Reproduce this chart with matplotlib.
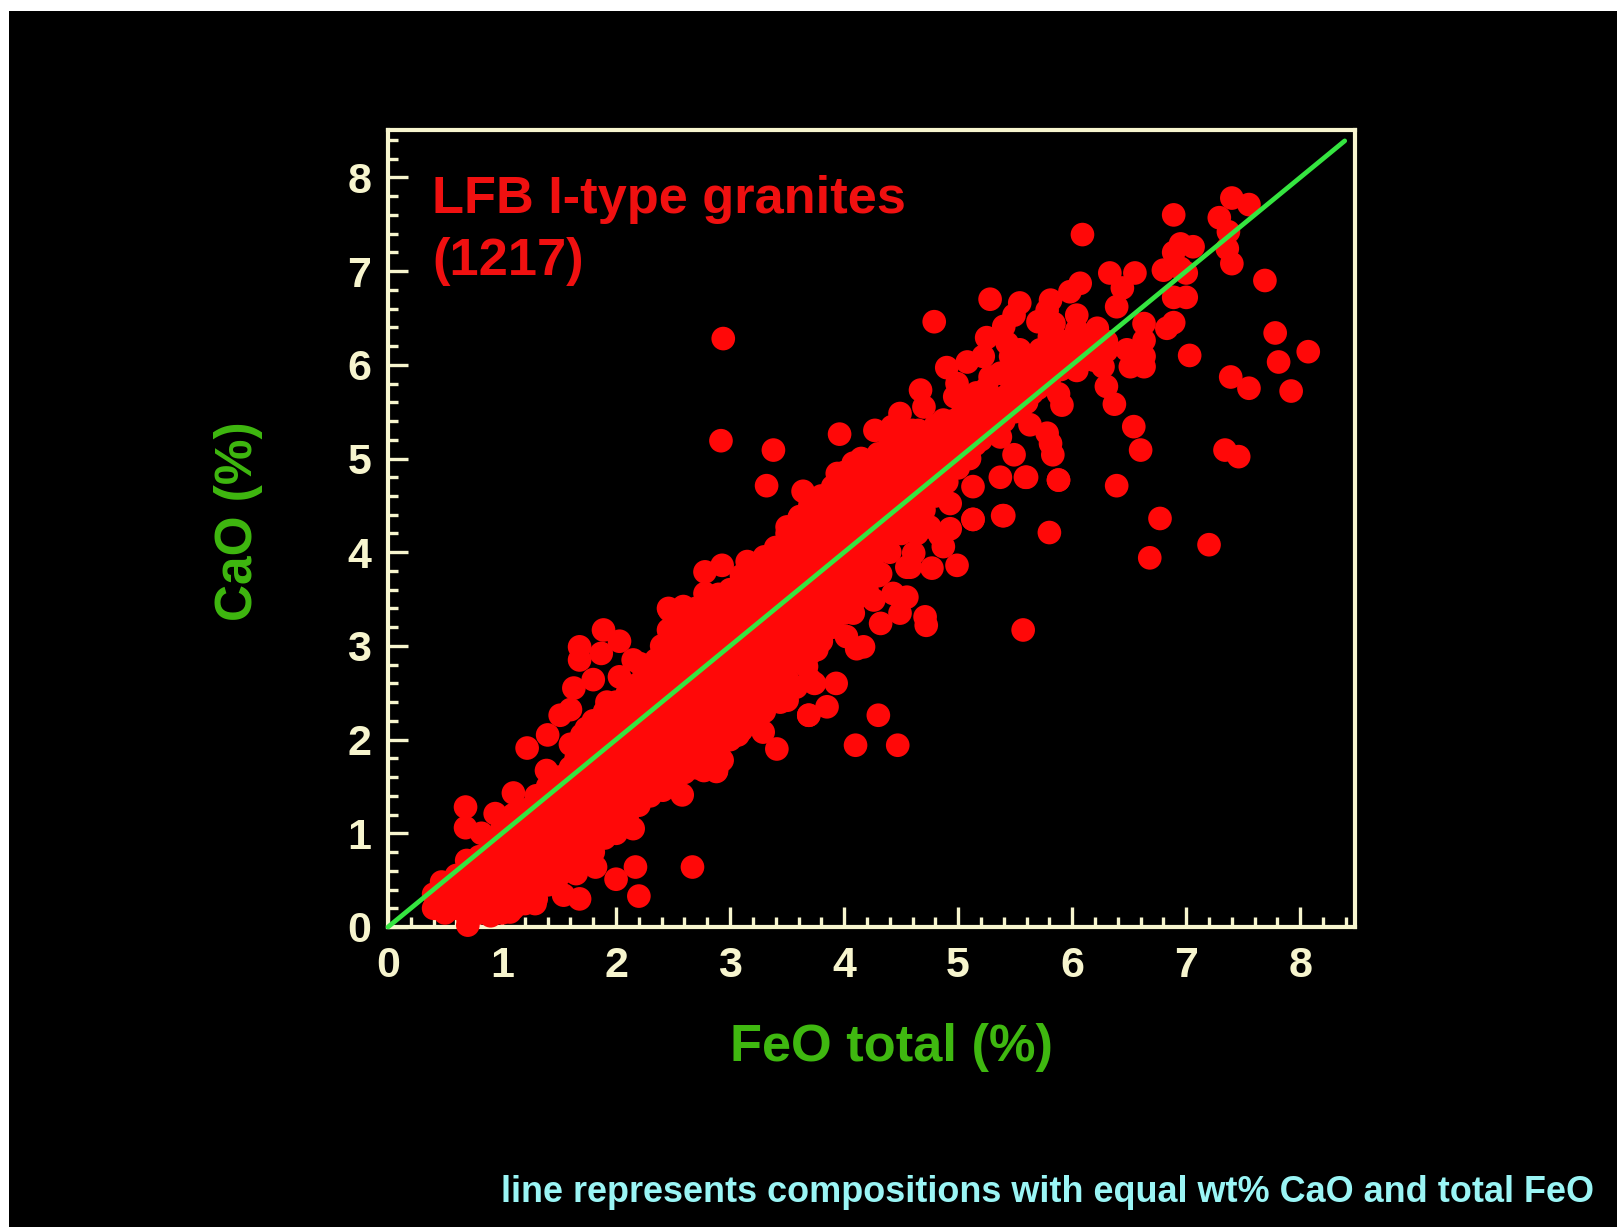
import matplotlib
matplotlib.use("Agg")
from matplotlib import pyplot as plt
from matplotlib.patches import Rectangle

# Separate samples (FeO total, CaO).
feo_outer = [8.07, 7.78, 7.81, 7.92, 7.69, 7.39, 7.55, 7.34, 7.46, 7.20, 6.68, 6.77,
             6.39, 6.60, 6.54, 5.57, 5.80, 5.88, 5.60, 5.37, 5.39, 5.13, 2.94, 2.92,
             3.38, 3.32, 3.96, 4.79, 6.09, 5.28, 6.89, 7.40, 7.55, 7.29, 7.37, 7.36,
             7.40, 4.47, 4.10, 4.30, 2.67, 2.20, 2.17, 2.00, 1.68, 1.54, 0.70, 7.03,
             6.95, 7.06, 6.89, 6.80, 6.95, 6.89, 7.00, 6.89, 6.83, 7.00, 6.33, 6.55,
             6.44, 6.39, 6.07, 5.98, 5.81, 5.78, 5.70, 5.84, 6.04, 6.04, 6.22, 5.89,
             5.72, 5.54, 5.46, 5.60, 5.78, 5.89, 5.54, 5.49, 5.40, 5.25, 5.43]
cao_outer = [6.14, 6.34, 6.03, 5.72, 6.90, 5.87, 5.75, 5.09, 5.02, 4.08, 3.94, 4.36,
             4.71, 5.09, 5.34, 3.17, 4.21, 4.77, 4.80, 4.80, 4.39, 4.35, 6.28, 5.19,
             5.09, 4.71, 5.26, 6.46, 7.39, 6.70, 7.60, 7.78, 7.71, 7.57, 7.42, 7.24,
             7.08, 1.94, 1.94, 2.26, 0.64, 0.33, 0.64, 0.51, 0.30, 0.34, 0.02, 6.10,
             7.29, 7.26, 7.20, 7.01, 7.03, 6.72, 6.72, 6.45, 6.39, 6.98, 6.98, 6.98,
             6.82, 6.62, 6.87, 6.78, 6.69, 6.58, 6.46, 6.44, 6.53, 6.37, 6.39, 6.26,
             6.16, 6.16, 6.09, 5.87, 5.98, 6.05, 6.66, 6.53, 6.41, 6.29, 6.23]

# Edge of the main cloud.
feo_edge = [4.90, 5.08, 5.22, 5.37, 5.28, 4.99, 4.97, 5.16, 4.67, 4.70, 4.49, 4.27, 4.42,
            4.87, 4.67, 5.02, 5.16, 5.28, 4.43, 4.72, 4.96, 5.13, 5.37, 5.49, 5.59, 5.88,
            5.13, 4.93, 5.13, 5.40, 4.93, 4.84, 4.87, 4.99, 4.77, 4.58, 5.51, 5.63, 5.78,
            5.81, 5.83, 5.88, 5.91, 6.30, 6.37, 6.63, 6.63, 6.63, 6.63, 6.51, 6.48, 6.27,
            6.04, 6.19, 4.08, 3.94, 3.64, 3.76, 3.50, 3.61, 3.44, 3.15, 2.93, 2.78, 3.15,
            2.78, 2.46, 2.59, 2.46, 2.56, 2.21, 2.36, 4.55, 4.55, 4.71, 4.72, 4.49, 4.32,
            4.26, 4.64, 4.11, 4.17, 4.02, 3.93, 3.74, 3.85, 3.69, 3.41, 3.29, 3.07, 2.91,
            2.88, 3.50, 3.44, 3.76, 3.67, 4.08, 4.32, 4.11, 4.61, 4.75, 4.43, 1.89, 1.68,
            2.03, 1.68, 1.87, 2.15, 1.80, 2.03, 1.63, 1.92, 1.60, 1.51, 1.40, 1.22, 1.74,
            1.39, 1.10, 0.94, 0.68, 0.68, 0.82, 0.69, 0.47, 0.46, 0.81, 1.07, 1.29, 1.82,
            1.65, 2.15, 2.00, 1.45, 2.24, 2.58, 2.41, 2.88, 2.77, 2.93, 3.06, 3.69, 3.50,
            3.58, 3.70, 3.70, 2.47, 2.47, 2.39]
cao_edge = [5.97, 6.03, 6.09, 5.91, 5.87, 5.80, 5.66, 5.70, 5.73, 5.55, 5.48, 5.30, 5.34,
            5.41, 5.27, 5.45, 5.55, 5.52, 5.13, 5.13, 5.20, 5.27, 5.23, 5.04, 4.80, 4.77,
            4.70, 4.52, 4.35, 4.39, 4.25, 4.18, 4.06, 3.86, 3.83, 3.84, 5.52, 5.36, 5.27,
            5.16, 5.04, 5.69, 5.57, 5.77, 5.58, 6.44, 6.26, 6.09, 5.98, 5.98, 6.16, 5.98,
            5.94, 6.05, 4.95, 4.84, 4.65, 4.52, 4.27, 4.38, 4.02, 3.90, 3.86, 3.79, 3.67,
            3.56, 3.40, 3.42, 3.17, 3.03, 2.81, 2.78, 3.84, 3.52, 3.31, 3.22, 3.35, 3.24,
            3.49, 4.20, 2.97, 2.99, 3.10, 2.60, 2.60, 2.35, 2.26, 1.90, 2.08, 2.05, 1.76,
            1.67, 2.49, 2.40, 2.96, 2.78, 3.35, 3.77, 3.77, 3.99, 4.27, 3.56, 3.17, 2.99,
            3.05, 2.85, 2.92, 2.85, 2.64, 2.67, 2.55, 2.40, 2.32, 2.26, 2.05, 1.91, 2.12,
            1.67, 1.43, 1.21, 1.28, 1.06, 1.00, 0.71, 0.48, 0.20, 0.18, 0.16, 0.25, 0.64,
            0.57, 1.05, 1.00, 0.54, 1.39, 1.41, 1.46, 1.66, 1.67, 1.78, 2.05, 2.26, 2.42,
            2.56, 2.64, 2.92, 3.38, 3.13, 2.78]

# Dense part of the cloud, FeO total -> CaO values estimated column by column.
core = {
    0.4: [0.2, 0.35], 0.5: [0.15, 0.3, 0.45], 0.6: [0.2, 0.4, 0.55],
    0.7: [0.1, 0.3, 0.5, 0.65], 0.8: [0.15, 0.35, 0.55, 0.75],
    0.9: [0.12, 0.3, 0.5, 0.7, 0.9], 1.0: [0.15, 0.35, 0.6, 0.85, 1.05],
    1.1: [0.2, 0.45, 0.7, 0.95, 1.2], 1.2: [0.25, 0.5, 0.75, 1.0, 1.25],
    1.3: [0.3, 0.6, 0.85, 1.1, 1.4], 1.4: [0.45, 0.7, 0.95, 1.2, 1.5],
    1.5: [0.55, 0.8, 1.05, 1.3, 1.6], 1.6: [0.65, 0.9, 1.15, 1.4, 1.7, 1.95],
    1.7: [0.75, 1.0, 1.25, 1.5, 1.8, 2.05], 1.8: [0.8, 1.1, 1.35, 1.6, 1.9, 2.2],
    1.9: [0.95, 1.2, 1.45, 1.7, 2.0, 2.3], 2.0: [1.05, 1.3, 1.55, 1.8, 2.1, 2.4],
    2.1: [1.2, 1.4, 1.65, 1.9, 2.2, 2.5], 2.2: [1.3, 1.5, 1.75, 2.0, 2.3, 2.6],
    2.3: [1.4, 1.6, 1.85, 2.1, 2.4, 2.7], 2.4: [1.5, 1.7, 1.95, 2.2, 2.5, 2.8, 3.0],
    2.5: [1.55, 1.8, 2.05, 2.3, 2.6, 2.9, 3.15], 2.6: [1.65, 1.9, 2.15, 2.4, 2.7, 3.0, 3.3],
    2.7: [1.7, 2.0, 2.25, 2.5, 2.8, 3.1, 3.4], 2.8: [1.75, 2.1, 2.35, 2.6, 2.9, 3.2, 3.5],
    2.9: [1.85, 2.2, 2.45, 2.7, 3.0, 3.3, 3.55], 3.0: [2.0, 2.3, 2.55, 2.8, 3.1, 3.4, 3.6],
    3.1: [2.1, 2.4, 2.65, 2.9, 3.2, 3.5, 3.75], 3.2: [2.2, 2.5, 2.75, 3.0, 3.3, 3.6, 3.85],
    3.3: [2.3, 2.6, 2.85, 3.1, 3.4, 3.7, 3.95], 3.4: [2.5, 2.75, 3.0, 3.25, 3.5, 3.8, 4.05],
    3.5: [2.65, 2.9, 3.15, 3.4, 3.65, 3.9, 4.2], 3.6: [2.85, 3.05, 3.3, 3.55, 3.8, 4.05, 4.35],
    3.7: [3.0, 3.2, 3.45, 3.7, 3.95, 4.2, 4.5], 3.8: [3.05, 3.3, 3.55, 3.8, 4.05, 4.3, 4.6],
    3.9: [3.2, 3.45, 3.7, 3.95, 4.2, 4.45, 4.7], 4.0: [3.35, 3.6, 3.85, 4.1, 4.35, 4.6, 4.85],
    4.1: [3.5, 3.75, 4.0, 4.25, 4.5, 4.75, 4.95], 4.2: [3.6, 3.9, 4.15, 4.4, 4.65, 4.9],
    4.3: [3.75, 4.05, 4.3, 4.55, 4.8, 5.05], 4.4: [4.0, 4.3, 4.6, 4.85, 5.15],
    4.5: [4.2, 4.45, 4.7, 4.95, 5.2], 4.6: [4.3, 4.55, 4.8, 5.05, 5.3],
    4.7: [4.45, 4.7, 4.95, 5.2], 4.8: [4.6, 4.85, 5.1, 5.35], 4.9: [4.75, 5.0, 5.25],
    5.0: [4.9, 5.15, 5.4], 5.1: [5.0, 5.25, 5.5], 5.2: [5.2, 5.45, 5.7], 5.3: [5.3, 5.55],
    5.4: [5.4, 5.65], 5.5: [5.5, 5.75, 5.95], 5.6: [5.6, 5.85, 6.05], 5.7: [5.75, 6.0],
    5.8: [5.85, 6.1, 6.3], 5.9: [5.95, 6.2], 6.0: [6.0, 6.2], 6.1: [6.05, 6.25],
    6.2: [6.1, 6.3], 6.3: [6.15, 6.25],
    # columns in between, the cloud has no gaps
    0.55: [0.25, 0.4], 0.65: [0.2, 0.35, 0.5], 0.75: [0.2, 0.4, 0.6], 0.85: [0.25, 0.45, 0.65],
    0.95: [0.2, 0.4, 0.6, 0.8], 1.05: [0.25, 0.5, 0.75, 0.95], 1.15: [0.3, 0.55, 0.8, 1.05],
    1.25: [0.35, 0.6, 0.85, 1.15], 1.35: [0.45, 0.7, 0.95, 1.25], 1.45: [0.55, 0.8, 1.1, 1.35],
    1.55: [0.65, 0.95, 1.2, 1.5], 1.65: [0.75, 1.05, 1.3, 1.55, 1.8], 1.75: [0.85, 1.15, 1.4, 1.65, 1.95],
    1.85: [1.0, 1.25, 1.5, 1.75, 2.05], 1.95: [1.1, 1.35, 1.6, 1.9, 2.2], 2.05: [1.2, 1.45, 1.7, 2.0, 2.3],
    2.15: [1.3, 1.55, 1.8, 2.1, 2.4], 2.25: [1.4, 1.65, 1.95, 2.2, 2.5], 2.35: [1.5, 1.75, 2.05, 2.3, 2.6, 2.85],
    2.45: [1.6, 1.85, 2.1, 2.4, 2.7, 2.95], 2.55: [1.7, 1.95, 2.2, 2.5, 2.8, 3.1],
    2.65: [1.8, 2.05, 2.3, 2.6, 2.85, 3.2], 2.75: [1.85, 2.15, 2.4, 2.7, 3.0, 3.3],
    2.85: [1.95, 2.25, 2.5, 2.8, 3.1, 3.4], 2.95: [2.1, 2.35, 2.65, 2.9, 3.2, 3.5],
    3.05: [2.2, 2.45, 2.7, 3.0, 3.3, 3.6], 3.15: [2.3, 2.55, 2.8, 3.1, 3.4, 3.7],
    3.25: [2.4, 2.65, 2.95, 3.2, 3.5, 3.8], 3.35: [2.55, 2.8, 3.1, 3.35, 3.65, 3.9],
    3.45: [2.7, 2.95, 3.2, 3.5, 3.75, 4.0], 3.55: [2.85, 3.1, 3.35, 3.65, 3.9, 4.2],
    3.65: [3.0, 3.25, 3.5, 3.8, 4.1, 4.3], 3.75: [3.1, 3.4, 3.65, 3.9, 4.2, 4.45],
    3.85: [3.25, 3.5, 3.8, 4.05, 4.3, 4.6], 3.95: [3.4, 3.65, 3.95, 4.2, 4.5, 4.7],
    4.05: [3.55, 3.8, 4.1, 4.4, 4.65, 4.85], 4.15: [3.7, 3.95, 4.25, 4.5, 4.75, 5.0],
    4.25: [3.85, 4.15, 4.4, 4.7, 4.95], 4.35: [4.15, 4.45, 4.7, 4.95], 4.45: [4.3, 4.55, 4.8, 5.05],
    4.55: [4.4, 4.65, 4.9, 5.2], 4.65: [4.55, 4.8, 5.05, 5.3], 4.75: [4.65, 4.9, 5.15],
    4.85: [4.75, 5.0, 5.25], 4.95: [4.9, 5.15, 5.4], 5.05: [5.05, 5.3], 5.15: [5.15, 5.4, 5.6],
    5.25: [5.3, 5.5, 5.75], 5.35: [5.4, 5.6], 5.45: [5.5, 5.7], 5.55: [5.55, 5.75, 6.0],
    5.65: [5.7, 5.95], 5.75: [5.8, 6.05],
}

line_ends = [0, 8.39]
major_ticks = [0, 1, 2, 3, 4, 5, 6, 7, 8]
minor_ticks = [0.2 * i for i in range(43)]

width, height = 1617, 1227
cream = "#F7F5CE"
label_green = "#3FB810"

plt.rcParams["font.family"] = ["Liberation Sans", "DejaVu Sans"]
plt.rcParams["font.weight"] = "bold"

fig = plt.figure(figsize=(width / 100, height / 100), dpi=100, facecolor="white")

# Black slide background, a thin white strip stays on the left and top.
fig.add_artist(Rectangle((9 / width, 0), 1 - 9 / width, 1 - 11 / height, transform=fig.transFigure,
                         facecolor="black", edgecolor="none", zorder=-1))

ax = fig.add_axes([388 / width, 1 - 927 / height, 967 / width, 797 / height])
ax.set_facecolor("none")
ax.set_xlim(0, 8.48)
ax.set_ylim(0, 8.506)

core_x = [x for x, ys in core.items() for y in ys]
core_y = [y for x, ys in core.items() for y in ys]
ax.scatter(feo_outer + feo_edge + core_x, cao_outer + cao_edge + core_y,
           s=290, c="#FF0808", edgecolors="none", clip_on=False, zorder=3)
ax.plot(line_ends, line_ends, color="#35E540", lw=3.4, solid_capstyle="round", clip_on=False, zorder=4)

for spine in ax.spines.values():
    spine.set_color(cream)
    spine.set_linewidth(3)

ax.set_xticks(major_ticks)
ax.set_yticks(major_ticks)
ax.set_xticks(minor_ticks, minor=True)
ax.set_yticks(minor_ticks, minor=True)
ax.tick_params(axis="both", which="major", direction="in", length=14.5, width=2.4, color=cream,
               labelcolor=cream, labelsize=31)
ax.tick_params(axis="both", which="minor", direction="in", length=7.5, width=2.4, color=cream)
ax.tick_params(axis="x", which="major", pad=14)
ax.tick_params(axis="y", which="major", pad=12)

fig.text(432 / width, 1 - 213 / height, "LFB I-type granites", color="#F01010", fontsize=37.7, ha="left", va="baseline")
fig.text(432 / width, 1 - 275 / height, "(1217)", color="#F01010", fontsize=37.7, ha="left", va="baseline")
fig.text(238 / width, 1 - 521 / height, "CaO (%)", color=label_green, fontsize=37, rotation=90, ha="center", va="center")
fig.text(892 / width, 1 - 1048 / height, "FeO total (%)", color=label_green, fontsize=37.7, ha="center", va="center")
fig.text(1594 / width, 1 - 1192 / height, "line represents compositions with equal wt% CaO and total FeO",
         color="#9AF5F5", fontsize=25.9, ha="right", va="center")

fig.savefig("out.png", dpi=100, facecolor=fig.get_facecolor())
